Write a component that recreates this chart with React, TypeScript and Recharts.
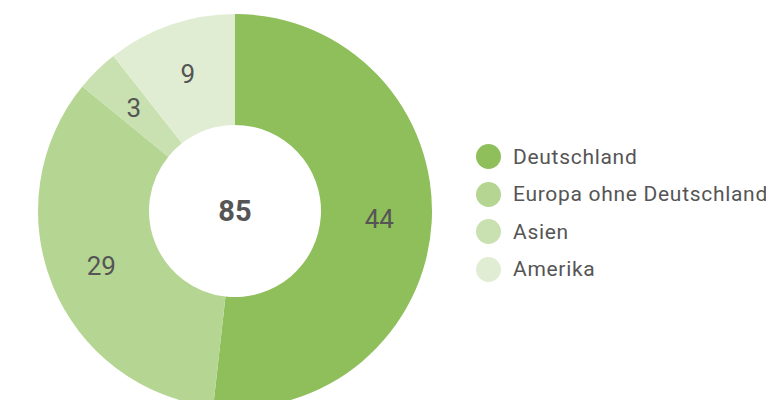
import { PieChart, Pie, Cell, Legend } from 'recharts'

const regions = ['Deutschland', 'Europa ohne Deutschland', 'Asien', 'Amerika']
const counts = [44, 29, 3, 9]
const colors = ['#8fbf5a', '#b5d592', '#c9e1b0', '#e1edd3']

const data = regions.map((name, i) => ({ name, value: counts[i] }))
const total = counts.reduce((a, b) => a + b, 0)

const RAD = Math.PI / 180

const renderLabel = (p: any) => {
  const r = (p.innerRadius + p.outerRadius) / 2 + 3
  const x = p.cx + r * Math.cos(-p.midAngle * RAD)
  const y = p.cy + r * Math.sin(-p.midAngle * RAD)
  return (
    <text x={x} y={y} fill="#555" fontSize={26} textAnchor="middle" dominantBaseline="central" fontFamily="Roboto">
      {p.value}
    </text>
  )
}

const renderLegend = () => (
  <ul style={{ listStyle: 'none', margin: 0, padding: 0, fontFamily: 'Roboto' }}>
    {regions.map((name, i) => (
      <li key={name} style={{ display: 'flex', alignItems: 'center', height: 37.5 }}>
        <span style={{ width: 25, height: 25, borderRadius: 12.5, background: colors[i], marginRight: 12, flexShrink: 0 }} />
        <span style={{ fontSize: 21, color: '#555', letterSpacing: 0.7, whiteSpace: 'nowrap' }}>{name}</span>
      </li>
    ))}
  </ul>
)

export default function App() {
  return (
    <PieChart width={774} height={400} margin={{ top: 0, right: 0, bottom: 0, left: 0 }} style={{ marginLeft: -8, marginTop: -8 }}>
      <Pie
        data={data}
        dataKey="value"
        cx={235}
        cy={211}
        innerRadius={86}
        outerRadius={197}
        startAngle={90}
        endAngle={-270}
        stroke="none"
        label={renderLabel}
        labelLine={false}
        isAnimationActive={false}
      >
        {data.map((d, i) => (
          <Cell key={d.name} fill={colors[i]} />
        ))}
      </Pie>
      <text x={235} y={211} textAnchor="middle" dominantBaseline="central" fontSize={29} fontWeight="bold" fill="#555" fontFamily="Roboto">
        {total}
      </text>
      <Legend content={renderLegend} wrapperStyle={{ left: 476, top: 138, width: 300 }} />
    </PieChart>
  )
}
